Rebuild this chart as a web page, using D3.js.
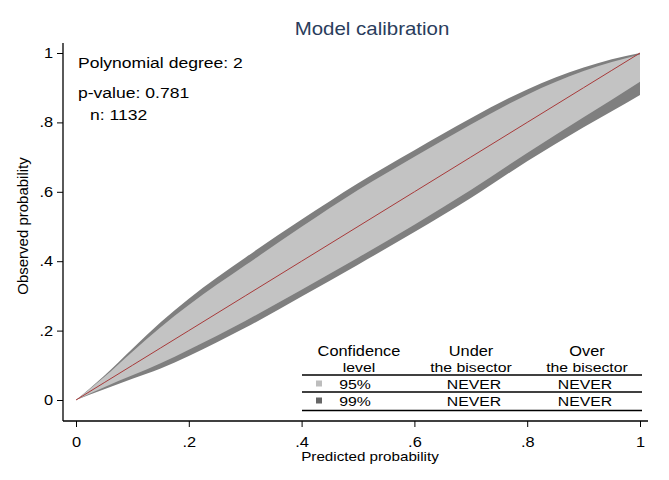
<!DOCTYPE html>
<html>
<head>
<meta charset="utf-8">
<script src="https://cdn.jsdelivr.net/npm/d3@7"></script>
<style>
  body { margin: 0; background: #fff; }
  svg text { font-family: "Liberation Sans", Arial, sans-serif; fill: #000; }
</style>
</head>
<body>
<svg id="chart"></svg>
<script>
// predicted probability grid and the confidence belt
const predicted = [0, 0.05, 0.1, 0.15, 0.2, 0.3, 0.4, 0.5, 0.6, 0.7, 0.8, 0.9, 0.95, 1];
const upper99 = [0, 0.07, 0.148, 0.224, 0.292, 0.41, 0.52, 0.625, 0.72, 0.812, 0.895, 0.958, 0.982, 1.0];
const upper95 = [0, 0.066, 0.139, 0.21, 0.274, 0.388, 0.499, 0.605, 0.701, 0.794, 0.88, 0.948, 0.974, 0.996];
const lower95 = [0, 0.037, 0.071, 0.106, 0.145, 0.228, 0.318, 0.41, 0.505, 0.605, 0.712, 0.815, 0.865, 0.917];
const lower99 = [0, 0.031, 0.061, 0.091, 0.127, 0.208, 0.298, 0.39, 0.484, 0.582, 0.688, 0.786, 0.832, 0.879];
const fitted = [0, 0.05, 0.1, 0.15, 0.2, 0.3, 0.4, 0.5, 0.6, 0.7, 0.8, 0.9, 0.95, 1];

const xTicks = [0, 0.2, 0.4, 0.6, 0.8, 1];
const yTicks = [0, 0.2, 0.4, 0.6, 0.8, 1];

const notes = ["Polynomial degree: 2", "p-value: 0.781", "n: 1132"];

// legend table
const headerTop = ["Confidence", "Under", "Over"];
const headerBottom = ["level", "the bisector", "the bisector"];
const confLevels = ["95%", "99%"];
const underBisector = ["NEVER", "NEVER"];
const overBisector = ["NEVER", "NEVER"];

// the source graph has its text a bit wide, so stretch glyphs horizontally
const K = 1.17;

class CalibrationChart {
  constructor(selector) {
    this.width = 669;
    this.height = 480;
    this.svg = d3.select(selector)
      .attr("width", this.width)
      .attr("height", this.height);
    this.render();
  }

  render() {
    this.x = d3.scaleLinear().domain([0, 1]).range([76, 640]);
    this.y = d3.scaleLinear().domain([0, 1]).range([400, 53]);
    this.drawBands();
    this.drawAxes();
    this.drawText();
    this.drawTable();
  }

  // put a stretched text at (x, y)
  label(parent, x, y, txt, size, anchor) {
    return parent.append("text")
      .attr("x", x / K).attr("y", y)
      .attr("transform", `scale(${K},1)`)
      .attr("text-anchor", anchor || "start")
      .style("font-size", size + "px")
      .text(txt);
  }

  drawBands() {
    const rows = predicted.map((p, i) => ({
      p, u99: upper99[i], u95: upper95[i], l95: lower95[i], l99: lower99[i], fit: fitted[i]
    }));

    const band = (lo, hi) => d3.area()
      .x(d => this.x(d.p))
      .y0(d => this.y(d[lo]))
      .y1(d => this.y(d[hi]))
      .curve(d3.curveMonotoneX);

    // 99% belt underneath, 95% belt on top
    this.svg.append("path")
      .datum(rows)
      .attr("fill", "#7f7f7f")
      .attr("d", band("l99", "u99"));

    this.svg.append("path")
      .datum(rows)
      .attr("fill", "#c3c3c3")
      .attr("d", band("l95", "u95"));

    const line = d3.line()
      .x(d => this.x(d.p))
      .y(d => this.y(d.fit));

    this.svg.append("path")
      .datum(rows)
      .attr("fill", "none")
      .attr("stroke", "#a83a3a")
      .attr("stroke-width", 1)
      .attr("d", line);
  }

  drawAxes() {
    const fmt = d => d === 0 ? "0" : d === 1 ? "1" : d3.format(".1f")(d).replace("0.", ".");

    const xAxis = this.svg.append("g")
      .attr("transform", "translate(0, 421)")
      .call(d3.axisBottom(this.x).tickValues(xTicks).tickFormat(fmt).tickSize(6).tickPadding(10));
    xAxis.select(".domain").remove();
    xAxis.selectAll("text")
      .attr("transform", `scale(${K},1)`)
      .style("font-size", "14px");
    xAxis.append("line")
      .attr("x1", 63).attr("x2", 648)
      .attr("stroke", "#000").attr("stroke-width", 1.3);

    const yAxis = this.svg.append("g")
      .attr("transform", "translate(63, 0)")
      .call(d3.axisLeft(this.y).tickValues(yTicks).tickFormat(fmt).tickSize(6).tickPadding(2.5));
    yAxis.select(".domain").remove();
    yAxis.selectAll("text")
      .attr("transform", `scale(${K},1)`)
      .style("font-size", "14px");
    yAxis.append("line")
      .attr("y1", 43).attr("y2", 421)
      .attr("stroke", "#000").attr("stroke-width", 1.3);

    // axis titles
    this.label(this.svg, 370, 461, "Predicted probability", 13, "middle");

    this.svg.append("text")
      .attr("transform", "translate(28, 226) rotate(-90)")
      .attr("text-anchor", "middle")
      .style("font-size", "15px")
      .text("Observed probability");
  }

  drawText() {
    this.label(this.svg, 372, 35, "Model calibration", 17.5, "middle")
      .style("fill", "#2a3d5c");

    const pos = [[78, 68], [78, 98], [90, 120]];
    notes.forEach((d, i) => this.label(this.svg, pos[i][0], pos[i][1], d, 15));
  }

  drawTable() {
    const g = this.svg.append("g");
    const cols = [359, 471, 587];
    const rowLines = [375, 392, 410.5];
    const rowY = [389, 406];

    headerTop.forEach((d, i) => this.label(g, cols[i], 356, d, 14, "middle"));
    headerBottom.forEach((d, i) => this.label(g, cols[i], 372.5, d, 13.5, "middle"));

    g.selectAll("line.row").data(rowLines).join("line")
      .attr("class", "row")
      .attr("x1", 302).attr("x2", 642)
      .attr("y1", d => d).attr("y2", d => d)
      .attr("stroke", "#000").attr("stroke-width", 1.3);

    const swatch = ["#bdbdbd", "#666666"];
    g.selectAll("rect.sw").data(confLevels).join("rect")
      .attr("class", "sw")
      .attr("x", 316).attr("y", (d, i) => rowY[i] - 8.5)
      .attr("width", 6).attr("height", 6)
      .attr("fill", (d, i) => swatch[i]);

    confLevels.forEach((d, i) => this.label(g, 355, rowY[i], d, 13.5, "middle"));
    underBisector.forEach((d, i) => this.label(g, 474, rowY[i], d, 13.5, "middle"));
    overBisector.forEach((d, i) => this.label(g, 585, rowY[i], d, 13.5, "middle"));
  }
}

new CalibrationChart("#chart");
</script>
</body>
</html>
